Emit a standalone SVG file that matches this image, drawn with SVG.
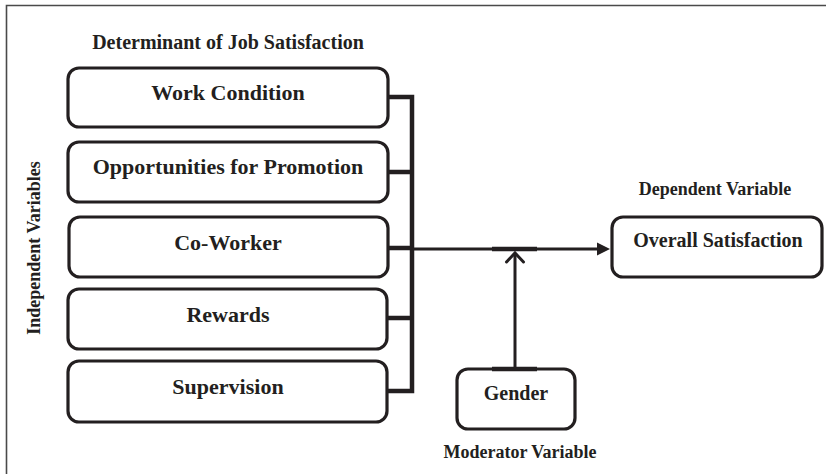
<svg xmlns="http://www.w3.org/2000/svg" width="826" height="474" viewBox="0 0 826 474">
  <defs>
    <style>
      .frame { fill: none; stroke: #4a4a4a; stroke-width: 1.6; }
      .box { fill: #ffffff; stroke: #231f20; stroke-width: 3.2; }
      .lbl { font-family: "Liberation Serif", "Times New Roman", serif; font-weight: bold; fill: #231f20; text-anchor: middle; }
      .big { font-size: 22px; }
      .mid { font-size: 20px; }
      .small { font-size: 18px; }
      .bus { fill: none; stroke: #231f20; stroke-width: 4.5; stroke-linejoin: miter; }
      .wire { fill: none; stroke: #231f20; stroke-width: 3; }
      .thick { fill: none; stroke: #231f20; stroke-width: 4.5; }
    </style>
  </defs>

  <rect width="826" height="474" fill="#ffffff"/>

  <!-- outer frame: top and left edges only -->
  <path class="frame" d="M6.5,474 V5.5 H826"/>

  <!-- headings -->
  <text class="lbl mid" x="228" y="49">Determinant of Job Satisfaction</text>
  <text class="lbl small" x="715" y="195">Dependent Variable</text>
  <text class="lbl small" x="520" y="458">Moderator Variable</text>
  <text class="lbl small" transform="translate(40,248) rotate(-90)">Independent Variables</text>

  <!-- determinant nodes -->
  <g id="work-condition">
    <rect class="box" x="68" y="68" width="320" height="59" rx="11"/>
    <text class="lbl big" x="228" y="100">Work Condition</text>
  </g>
  <g id="promotion">
    <rect class="box" x="68" y="142" width="320" height="60" rx="11"/>
    <text class="lbl big" x="228" y="174">Opportunities for Promotion</text>
  </g>
  <g id="co-worker">
    <rect class="box" x="69" y="217" width="319" height="60" rx="11"/>
    <text class="lbl big" x="228" y="250">Co-Worker</text>
  </g>
  <g id="rewards">
    <rect class="box" x="68" y="289" width="319" height="60" rx="11"/>
    <text class="lbl big" x="228" y="322">Rewards</text>
  </g>
  <g id="supervision">
    <rect class="box" x="68" y="361" width="319" height="61" rx="11"/>
    <text class="lbl big" x="228" y="394">Supervision</text>
  </g>

  <!-- outcome and moderator nodes -->
  <g id="overall-satisfaction">
    <rect class="box" x="612" y="217" width="210" height="60" rx="11"/>
    <text class="lbl mid" x="718" y="247">Overall Satisfaction</text>
  </g>
  <g id="gender">
    <rect class="box" x="457" y="369" width="118" height="60" rx="11"/>
    <text class="lbl mid" x="516" y="400">Gender</text>
  </g>

  <!-- connectors -->
  <g id="connectors">
    <!-- collecting bus on the right of the determinants -->
    <path class="bus" d="M388,97 H412 M388,172 H412 M388,248 H412 M388,318 H412 M388,391 H412 M412,94.75 V393.25"/>
    <!-- main path to overall satisfaction -->
    <path class="wire" d="M412,249 H599"/>
    <polygon points="610,249 597,242.5 597,255.5" fill="#231f20"/>
    <!-- moderation junction marks -->
    <path class="thick" d="M492,249 H537 M492,369 H537"/>
    <!-- moderator arrow from gender -->
    <path class="wire" d="M515,369 V253"/>
    <polyline class="wire" points="506.5,262 515,253 523.5,262" stroke-linecap="round" stroke-linejoin="miter"/>
  </g>
</svg>
